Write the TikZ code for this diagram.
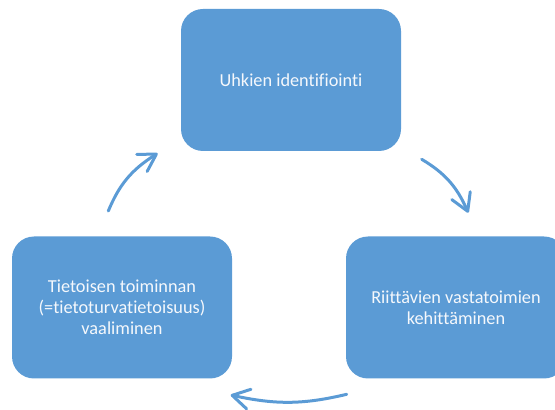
\documentclass[tikz,border=0pt]{standalone}
\usepackage{fontspec}
\setmainfont{Carlito}[Ligatures=NoCommon]
\usetikzlibrary{arrows.meta,bending}
\definecolor{boxblue}{HTML}{5B9BD5}
\definecolor{boxtext}{HTML}{F5F8FC}
\begin{document}
\begin{tikzpicture}[x=1pt,y=1pt,
  cyclebox/.style={rectangle, rounded corners=22pt, fill=boxblue, minimum width=220pt, minimum height=142pt, align=center, text=boxtext, font=\fontsize{18.3}{21}\selectfont, inner sep=0pt},
  cyclearrow/.style={draw=boxblue, line width=3pt, line cap=round, -{Straight Barb[length=17pt,width=20pt,round]}}]
\useasboundingbox (0,0) rectangle (555,410);
\clip (0,0) rectangle (555,410);
\node[cyclebox] (top) at (291,330) {Uhkien identifiointi};
\node[cyclebox] (right) at (456,102.5) {Riittävien vastatoimien\\kehittäminen};
\node[cyclebox] (left) at (122,102.5) {Tietoisen toiminnan\\(=tietoturvatietoisuus)\\vaaliminen};
\coordinate (a1s) at (421.7,250.7);
\coordinate (a1e) at (468.3,197.3);
\coordinate (a2s) at (346.7,15.7);
\coordinate (a2e) at (230.7,15);
\coordinate (a3s) at (108.3,199);
\coordinate (a3e) at (157.7,256.7);
\draw[cyclearrow] (a1s) to[bend left=18] (a1e);
\draw[cyclearrow] (a2s) to[bend left=13] (a2e);
\draw[cyclearrow] (a3s) to[bend left=18] (a3e);
\end{tikzpicture}
\end{document}
